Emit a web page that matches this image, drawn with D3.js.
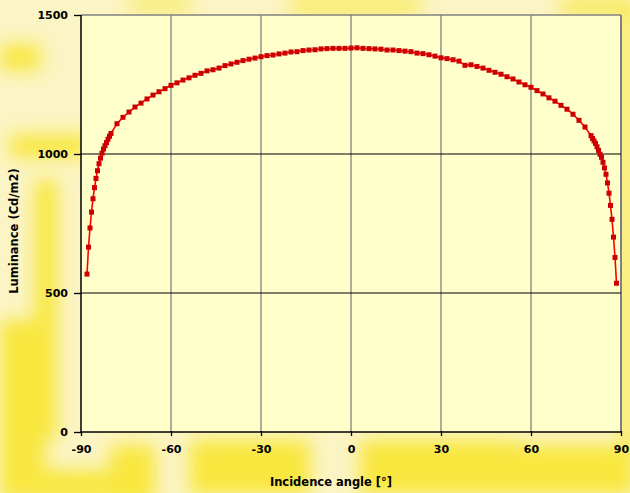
<!DOCTYPE html>
<html><head><meta charset="utf-8">
<script src="https://cdn.jsdelivr.net/npm/d3@7"></script>
<style>body{margin:0;padding:0;overflow:hidden;background:#fbf3b8}</style>
</head><body>
<svg id="chart" width="630" height="493"></svg>
<script>
// Data
const angles = [
  -88,-87.5,-87,-86.5,-86,-85.5,-85,-84.5,-84,-83.5,-83,-82.5,-82,-81.5,-81,-80.5,-80,
  -78,-76,-74,-72,-70,-68,-66,-64,-62,-60,-58,-56,-54,-52,-50,-48,-46,-44,-42,-40,
  -38,-36,-34,-32,-30,-28,-26,-24,-22,-20,-18,-16,-14,-12,-10,-8,-6,-4,-2,0,
  2,4,6,8,10,12,14,16,18,20,22,24,26,28,30,32,34,36,38,40,42,44,46,48,50,
  52,54,56,58,60,62,64,66,68,70,72,74,76,78,
  80,80.5,81,81.5,82,82.5,83,83.5,84,84.5,85,85.5,86,86.5,87,87.5,88,88.5
];
const luminance = [
  568,665,734,791,839,879,912,940,965,985,1003,1018,1030,1041,1053,1064,1074,
  1109,1132,1151,1169,1183,1198,1212,1224,1235,1247,1256,1266,1274,1283,1290,1299,1303,1309,1318,1324,
  1330,1336,1341,1345,1350,1354,1356,1360,1363,1367,1368,1372,1374,1375,1378,1379,1380,1380,1380,1381,
  1382,1380,1379,1378,1377,1374,1374,1372,1370,1368,1363,1361,1357,1352,1346,1343,1339,1334,1319,1321,1315,1309,1301,1294,1287,
  1278,1270,1259,1249,1240,1228,1216,1202,1190,1175,1161,1143,1121,1097,
  1066,1056,1047,1038,1026,1013,999,988,970,950,927,896,859,815,765,701,628,535
];
const xTicks = [-90,-60,-30,0,30,60,90];
const yTicks = [0,500,1000,1500];
const xTitle = "Incidence angle [°]";
const yTitle = "Luminance (Cd/m2)";

const svg = d3.select("#chart");
const W = 630, H = 493;
const L = 81, R = 621, T = 15, B = 432;

// background texture (decorative)
const defs = svg.append("defs");
defs.append("filter").attr("id","blur").attr("filterUnits","userSpaceOnUse")
  .attr("x",-100).attr("y",-100).attr("width",W+200).attr("height",H+200)
  .append("feGaussianBlur").attr("stdDeviation",9);
svg.append("rect").attr("width",W).attr("height",H).attr("fill","#fbf4c4");
const blobs = svg.append("g").attr("filter","url(#blur)").attr("fill","#f8e41a").attr("opacity",0.8);
[[0,45,40,25],[10,135,80,22],[35,180,22,260],[0,320,45,170],[110,445,45,60],[190,440,120,55],
 [360,440,160,55],[520,445,110,50],[560,0,70,14],[623,0,12,493],[290,0,130,12],[0,470,110,30],[130,0,60,10]]
 .forEach(b=>blobs.append("rect").attr("x",b[0]).attr("y",b[1]).attr("width",b[2]).attr("height",b[3]));

const x = d3.scaleLinear().domain([-90,90]).range([L,R]);
const y = d3.scaleLinear().domain([0,1500]).range([B,T]);

// plot area
svg.append("rect").attr("x",L).attr("y",T).attr("width",R-L).attr("height",B-T).attr("fill","#ffffcc");

// vertical gridlines (gray)
svg.append("g").selectAll("line").data(xTicks.filter(d=>d>-90)).join("line")
  .attr("x1",d=>x(d)).attr("x2",d=>x(d)).attr("y1",T).attr("y2",B)
  .attr("stroke","#808080").attr("stroke-width",d=>d===90?2:1.3);
// top border
svg.append("line").attr("x1",L).attr("x2",R).attr("y1",T).attr("y2",T).attr("stroke","#808080").attr("stroke-width",1.5);
// horizontal gridlines (black)
svg.append("g").selectAll("line").data(yTicks.filter(d=>d>0&&d<1500)).join("line")
  .attr("x1",L).attr("x2",R).attr("y1",d=>y(d)).attr("y2",d=>y(d))
  .attr("stroke","#000").attr("stroke-width",1.2);

// axes
const font = "'DejaVu Sans', Verdana, sans-serif";
const fmt = d => String(d);
const xAxis = svg.append("g").attr("transform",`translate(0,${B})`)
  .call(d3.axisBottom(x).tickValues(xTicks).tickSize(4).tickPadding(9).tickFormat(fmt));
const yAxis = svg.append("g").attr("transform",`translate(${L},0)`)
  .call(d3.axisLeft(y).tickValues(yTicks).tickSize(7).tickPadding(6).tickFormat(fmt));
[xAxis,yAxis].forEach(a=>{
  a.select(".domain").attr("stroke","#000").attr("stroke-width",1.5);
  a.selectAll(".tick line").attr("stroke","#000").attr("stroke-width",1.3);
  a.selectAll(".tick text").attr("fill","#000").style("font-family",font)
   .style("font-size","11px").style("font-weight","bold");
});
xAxis.selectAll(".tick line").attr("y1",-1);
yAxis.select(".domain").attr("d",`M0,${T}V${B}`);
xAxis.select(".domain").attr("d",`M${L},0H${R}`);
yAxis.selectAll(".tick text").attr("dy","0.35em");

// titles
svg.append("text").attr("x",331).attr("y",486).attr("text-anchor","middle")
  .style("font-family",font).style("font-size","11.5px").style("font-weight","bold").text(xTitle);
svg.append("text").attr("transform",`translate(18,231) rotate(-90)`).attr("text-anchor","middle")
  .style("font-family",font).style("font-size","11.5px").style("font-weight","bold").text(yTitle);

// series
const pts = angles.map((a,i)=>[a,luminance[i]]);
svg.append("path").datum(pts)
  .attr("d",d3.line().x(d=>x(d[0])).y(d=>y(d[1])))
  .attr("fill","none").attr("stroke","#ff0000").attr("stroke-width",1.6);
svg.append("g").selectAll("rect").data(pts).join("rect")
  .attr("x",d=>x(d[0])-2.5).attr("y",d=>y(d[1])-2.5).attr("width",5).attr("height",5)
  .attr("fill","#cc0000");
</script>
</body></html>
